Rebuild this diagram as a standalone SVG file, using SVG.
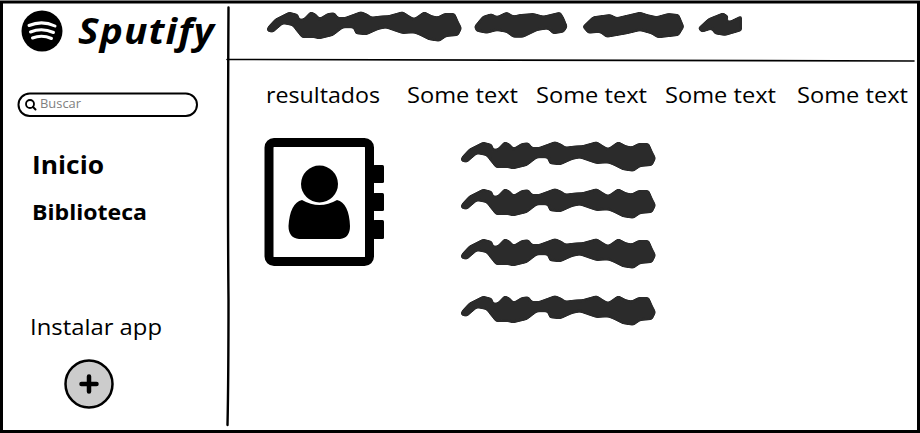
<svg xmlns="http://www.w3.org/2000/svg" xmlns:xlink="http://www.w3.org/1999/xlink" width="920" height="433" viewBox="0 0 920 433">
<style>
text{font-family:"Open Sans","Liberation Sans",sans-serif;fill:#000}
.t{font-size:22px}
.b{font-weight:700}
.l{fill:none;stroke:#000;stroke-width:2.4;stroke-linecap:round}
.sc{fill:#2b2b2b;stroke:#2b2b2b;stroke-width:2;stroke-linejoin:round}
</style>
<defs>
<filter id="soft" x="-5%" y="-20%" width="110%" height="140%" color-interpolation-filters="sRGB">
<feGaussianBlur stdDeviation="1.700"/>
<feComponentTransfer><feFuncA type="linear" slope="5" intercept="-2"/></feComponentTransfer>
</filter>
<path id="scr" class="sc" d="M462 158L470 149.300L483.300 142.700L491.700 145L492.300 150.300L498.300 149.300L505 142.300L510 145L513.300 149.300L521.700 144L528.300 143.300L531.700 148.300L540 147.700L555 142.300L561.700 145L565 147.700L575 146.500L583.300 146L596.700 142.300L603.300 146.700L608.300 149.300L618.300 142.300L625 146L631.700 147.700L638.300 144L648.300 144L651.700 151.700L655 158.300L651.700 165L640 166L633.300 170.700L623.300 169.300L615 165L608.300 162.300L596.700 163L590 160.700L580 157.300L571.700 159L560 164.300L550 163.300L548.300 157.300L536.700 157.300L526.700 165L513.300 168.300L506.700 166.700L496.700 167.300L493.300 163.300L486.700 155L476.700 153L466.700 161.700L461.700 160.700Z"/>
</defs>
<rect width="920" height="433" fill="#fff"/>
<g id="connectors">
<path class="l" style="stroke-width:3" d="M1.500 2H918.500V431.500H1.500Z"/>
<path class="l" d="M228.500 7.500Q227.500 200 228.500 300Q228.500 380 227.500 425"/>
<path class="l" style="stroke-width:1.600" d="M227 59.500Q500 61 914 61"/>
</g>
<g id="logo">
<circle cx="42" cy="31" r="20.500" fill="#000"/>
<path d="M29 25.500Q42 20 55 26M30.500 32Q42 27.500 53.500 32.500M32.500 38Q42 34.500 51.500 38.500" fill="none" stroke="#fff" stroke-width="3" stroke-linecap="round"/>
</g>
<g id="title"><text x="78" y="44" style="font-size:36px;font-weight:700;font-style:italic;letter-spacing:1px" textLength="137" lengthAdjust="spacingAndGlyphs">Sputify</text></g>
<g id="header-scribble">
<g filter="url(#soft)">
<use xlink:href="#scr" href="#scr" x="-194" y="-130"/>
<path class="sc" d="M475 26.700L483.300 16.700L491.700 14.300L496.700 17.300L506.700 12.700L513.300 16.700L520 15L533.300 14L543.300 16.700L560 12.700L563.300 18.300L566.700 26.700L563.300 31.700L553.300 33.300L548.300 28.300L536.700 30L523.300 36.700L513.300 36.700L506.700 31.700L496.700 30L486.700 32.700L476.700 30.700Z"/>
<path class="sc" d="M583.300 26.700L593.300 17.300L610 15L616.700 18.300L640 12.700L646.700 15L656.700 17.300L668.300 14L678.300 15L683.300 26.700L678.300 35L658.300 37.300L651.700 33.300L640 30L626.700 33.300L606.700 36.700L600 31.700L588.300 32.700Z"/>
<path d="M697.500 28.300L708.300 18.300L723.300 12.300L729.300 16.700L726 20.700L730 20.700L742 15V31L725 36L714.500 34.300L711.700 29.500L701.700 32.700Z" fill="#2b2b2b"/>
</g>
</g>
<g id="search">
<rect x="18.500" y="93.500" width="178.500" height="22.500" rx="11.250" fill="#fff" stroke="#000" stroke-width="2"/>
<circle cx="30" cy="104" r="4" fill="none" stroke="#000" stroke-width="1.800"/>
<path d="M33 107L35.500 109.500" stroke="#000" stroke-width="2" stroke-linecap="round"/>
<text x="40" y="108" style="font-size:12.500px;fill:#808080" textLength="41" lengthAdjust="spacingAndGlyphs">Buscar</text>
</g>
<g id="menu-inicio"><text class="b" x="32" y="174" style="font-size:25px" textLength="72" lengthAdjust="spacingAndGlyphs">Inicio</text></g>
<g id="menu-biblioteca"><text class="b" x="32" y="220" style="font-size:21px" textLength="115" lengthAdjust="spacingAndGlyphs">Biblioteca</text></g>
<g id="install-label"><text class="t" x="30" y="335" textLength="132" lengthAdjust="spacingAndGlyphs">Instalar app</text></g>
<g id="install-button">
<circle cx="89" cy="384" r="23.500" fill="#ccc" stroke="#000" stroke-width="2.500"/>
<path d="M89 376.500V391.500M81.500 384H96.500" stroke="#000" stroke-width="4.500" stroke-linecap="round"/>
</g>
<g id="tab-resultados"><text class="t" x="266" y="103" textLength="114" lengthAdjust="spacingAndGlyphs">resultados</text></g>
<g id="tab-1"><text class="t" x="407" y="103" textLength="111" lengthAdjust="spacingAndGlyphs">Some text</text></g>
<g id="tab-2"><text class="t" x="536" y="103" textLength="111" lengthAdjust="spacingAndGlyphs">Some text</text></g>
<g id="tab-3"><text class="t" x="665" y="103" textLength="111" lengthAdjust="spacingAndGlyphs">Some text</text></g>
<g id="tab-4"><text class="t" x="797" y="103" textLength="111" lengthAdjust="spacingAndGlyphs">Some text</text></g>
<g id="contact-icon">
<rect x="269" y="142.500" width="100.500" height="119" rx="5" fill="#fff" stroke="#000" stroke-width="9"/>
<rect x="373" y="165" width="11" height="18" rx="1.500"/>
<rect x="373" y="193" width="11" height="18" rx="1.500"/>
<rect x="373" y="220" width="11" height="19" rx="1.500"/>
<circle cx="319.500" cy="184" r="18.500"/>
<path d="M302 200Q319.500 210 337 200Q349 203 350 226Q350 238 340 239H299Q288.500 238 288.500 226Q290 203 302 200Z"/>
</g>
<g id="text-lines" filter="url(#soft)">
<use href="#scr" xlink:href="#scr"/>
<use href="#scr" xlink:href="#scr" y="47"/>
<use href="#scr" xlink:href="#scr" y="97"/>
<use href="#scr" xlink:href="#scr" y="154"/>
</g>
</svg>
